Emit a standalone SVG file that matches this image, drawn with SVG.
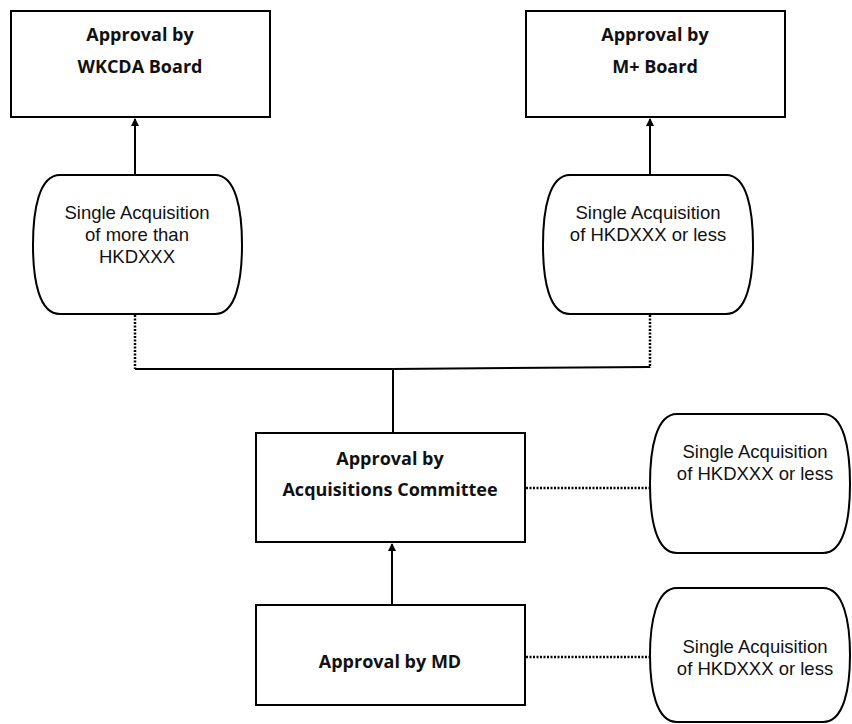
<svg xmlns="http://www.w3.org/2000/svg" width="852" height="724" viewBox="0 0 852 724">
<defs>
<marker id="arr" markerWidth="8" markerHeight="8" refX="7" refY="4" orient="auto" markerUnits="userSpaceOnUse">
<path d="M0,0 L8,4 L0,8 Z" fill="#000"/>
</marker>
<style>
.box{fill:#fff;stroke:#000;stroke-width:2}
.cap{fill:#fff;stroke:#000;stroke-width:2}
.b{font-family:"Open Sans","Liberation Sans",sans-serif;font-weight:bold;font-size:18px;fill:#111;text-anchor:middle}
.r{font-family:"Liberation Sans","Open Sans",sans-serif;font-size:18.5px;fill:#111;text-anchor:middle}
.ln{fill:none;stroke:#000;stroke-width:2}
.dot{fill:none;stroke:#000;stroke-width:2.5;stroke-dasharray:2 1.5}
</style>
</defs>
<rect width="852" height="724" fill="#fff"/>
<g id="wkcda">
<rect class="box" x="11" y="11" width="259" height="106"/>
<text class="b" x="140" y="41">Approval by</text>
<text class="b" x="140" y="73">WKCDA Board</text>
</g>
<g id="mplus">
<rect class="box" x="526" y="11" width="259" height="106"/>
<text class="b" x="655" y="41">Approval by</text>
<text class="b" x="655" y="73">M+ Board</text>
</g>
<g id="cap1">
<path class="cap" d="M60,175 H215 C236,175 242,210 242,245 C242,280 236,314 215,314 H60 C39,314 33,280 33,245 C33,210 39,175 60,175 Z"/>
<text class="r" x="137" y="219">Single Acquisition</text>
<text class="r" x="137" y="241">of more than</text>
<text class="r" x="137" y="263">HKDXXX</text>
</g>
<g id="cap2">
<path class="cap" d="M570,175 H726 C747,175 753,210 753,245 C753,280 747,314 726,314 H570 C549,314 543,280 543,245 C543,210 549,175 570,175 Z"/>
<text class="r" x="648" y="219">Single Acquisition</text>
<text class="r" x="648" y="241">of HKDXXX or less</text>
</g>
<g id="ac">
<rect class="box" x="256" y="433" width="269" height="109"/>
<text class="b" x="390" y="465">Approval by</text>
<text class="b" x="390" y="496">Acquisitions Committee</text>
</g>
<g id="md">
<rect class="box" x="256" y="605" width="269" height="100"/>
<text class="b" x="390" y="668">Approval by MD</text>
</g>
<g id="cap3">
<path class="cap" d="M677,414 H823 C844,414 850,449 850,484 C850,519 844,553 823,553 H677 C656,553 650,519 650,484 C650,449 656,414 677,414 Z"/>
<text class="r" x="755" y="458">Single Acquisition</text>
<text class="r" x="755" y="480">of HKDXXX or less</text>
</g>
<g id="cap4">
<path class="cap" d="M677,588 H823 C844,588 850,623 850,655 C850,688 844,722 823,722 H677 C656,722 650,688 650,655 C650,623 656,588 677,588 Z"/>
<text class="r" x="755" y="653">Single Acquisition</text>
<text class="r" x="755" y="675">of HKDXXX or less</text>
</g>
<g id="connectors">
<line class="ln" x1="135" y1="175" x2="135" y2="119" marker-end="url(#arr)"/>
<line class="ln" x1="650" y1="175" x2="650" y2="119" marker-end="url(#arr)"/>
<line class="dot" x1="135" y1="315" x2="135" y2="369"/>
<line class="dot" x1="650" y1="315" x2="650" y2="368"/>
<polyline class="ln" points="135,369 393,369 650,367"/>
<line class="ln" x1="393" y1="369" x2="393" y2="433"/>
<line class="ln" x1="392" y1="605" x2="392" y2="544" marker-end="url(#arr)"/>
<line class="dot" x1="526" y1="488" x2="650" y2="488"/>
<line class="dot" x1="526" y1="657" x2="650" y2="657"/>
</g>
</svg>
